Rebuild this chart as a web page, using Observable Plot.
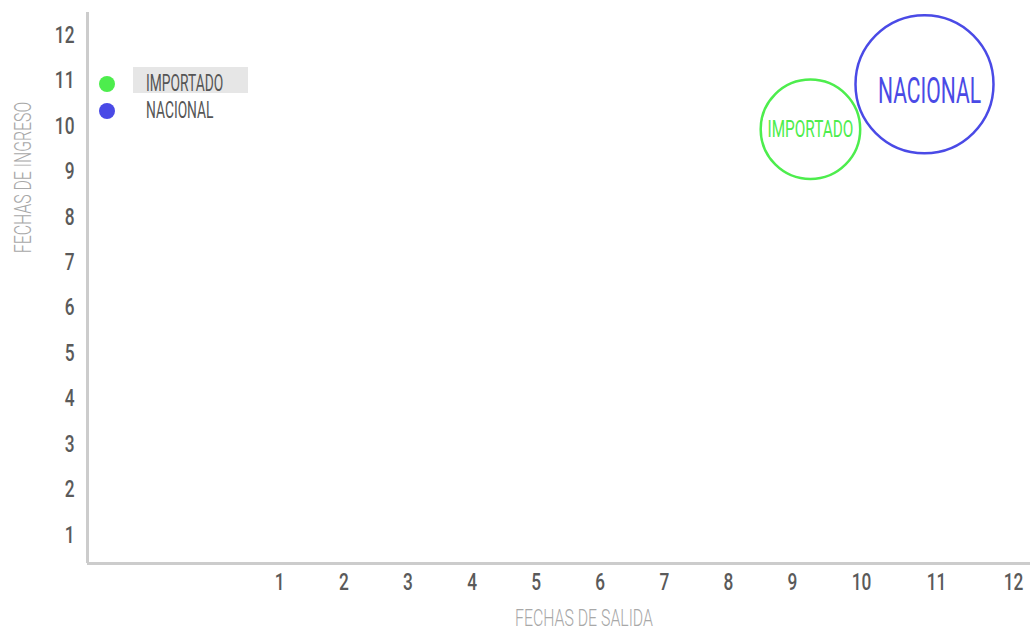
<!DOCTYPE html>
<html>
<head>
<meta charset="utf-8">
<script src="https://cdn.jsdelivr.net/npm/d3@7"></script>
<script src="https://cdn.jsdelivr.net/npm/@observablehq/plot@0.6"></script>
<style>
  html, body { margin: 0; padding: 0; background: #fff; }
  #wrap { position: relative; width: 1035px; height: 628px; font-family: Roboto, "Open Sans", sans-serif; }
  #legend { position: absolute; left: 0; top: 0; }
  .lg-dot { position: absolute; width: 16px; height: 16px; border-radius: 50%; }
  .lg-text { position: absolute; font-size: 23px; line-height: 26px; color: #555; white-space: nowrap; transform: scaleX(0.6); transform-origin: left center; }
  .lg-hl { position: absolute; background: #e6e6e6; }
</style>
</head>
<body>
<div id="wrap"><div id="chart"></div><div id="legend"></div></div>
<script>
// ---- data ----
const series = ["IMPORTADO", "NACIONAL"];
const salida = [9.26, 10.84];     // FECHAS DE SALIDA (x)
const ingreso = [9.93, 10.92];    // FECHAS DE INGRESO (y)
const volumen = [52, 100];        // bubble size
const colors = ["#4ded4d", "#4a4ae6"];
const xTicks = [1, 2, 3, 4, 5, 6, 7, 8, 9, 10, 11, 12];
const yTicks = [1, 2, 3, 4, 5, 6, 7, 8, 9, 10, 11, 12];

const data = series.map((s, i) => ({serie: s, x: salida[i], y: ingreso[i], v: volumen[i]}));

// the reference x axis is stretched a little beyond 9: piecewise mapping
const xPiece = d3.scaleLinear().domain([-2, 9, 10, 11, 12, 12.22]).range([87, 792, 861, 936, 1013, 1030]);

const font = 'Roboto, "Open Sans", sans-serif';

const chart = Plot.plot({
  width: 1035,
  height: 628,
  marginTop: 12,
  marginBottom: 65,
  marginLeft: 87,
  marginRight: 5,
  style: {fontFamily: font, background: "#fff", overflow: "visible"},
  x: {transform: xPiece, range: [87, 1030]},
  y: {domain: [0.37, 12.5]},
  r: {type: "sqrt", domain: [0, 100], range: [0, 69]},
  color: {domain: series, range: colors},
  marks: [
    Plot.ruleY([0.37], {x1: -2, x2: 12.22, stroke: "#cccccc", strokeWidth: 3}),
    Plot.ruleX([-2], {y1: 0.37, y2: 12.5, stroke: "#cccccc", strokeWidth: 3}),
    Plot.axisX(xTicks, {tickSize: 0, tickPadding: 9, fontSize: 24, fill: "#5a5a5a", fontWeight: 500, label: null, tickFormat: d => String(d), className: "sq-tick"}),
    Plot.axisY(yTicks, {tickSize: 0, tickPadding: 13, fontSize: 24, fill: "#5a5a5a", fontWeight: 500, label: null, tickFormat: d => String(d), className: "sq-tick"}),
    Plot.dot(data, {x: "x", y: "y", r: "v", stroke: "serie", strokeWidth: 2.5, fill: "none"}),
    Plot.text(data.filter(d => d.serie === "IMPORTADO"), {x: "x", y: "y", text: "serie", fill: "serie", fontSize: 24, className: "sq-bubble-s"}),
    Plot.text(data.filter(d => d.serie === "NACIONAL"), {x: "x", y: "y", text: "serie", fill: "serie", fontSize: 37, dx: 5, dy: 7, className: "sq-bubble-l"}),
    Plot.text(["FECHAS DE SALIDA"], {frameAnchor: "bottom", textAnchor: "middle", dx: 25, dy: 62, fontSize: 24, fill: "#a8a8a8", fontWeight: 300, className: "sq-title"}),
    Plot.text(["FECHAS DE INGRESO"], {frameAnchor: "top-left", textAnchor: "middle", rotate: -90, dx: -74, dy: 165, fontSize: 24, fill: "#a8a8a8", fontWeight: 300, className: "sq-title"})
  ]
});
document.getElementById("chart").appendChild(chart);

// condensed look: squeeze glyphs horizontally
function squeeze(sel, k) {
  chart.querySelectorAll(sel).forEach(t => {
    const len = t.getComputedTextLength();
    if (len > 0) {
      t.setAttribute("textLength", (len * k).toFixed(2));
      t.setAttribute("lengthAdjust", "spacingAndGlyphs");
    }
  });
}
squeeze(".sq-tick text", 0.72);
squeeze(".sq-title text", 0.66);
squeeze(".sq-bubble-s text", 0.64);
squeeze(".sq-bubble-l text", 0.57);

// ---- legend ----
const legend = document.getElementById("legend");
const hl = document.createElement("div");
hl.className = "lg-hl";
Object.assign(hl.style, {left: "133px", top: "67px", width: "115px", height: "26px"});
legend.appendChild(hl);
series.forEach((s, i) => {
  const dot = document.createElement("div");
  dot.className = "lg-dot";
  Object.assign(dot.style, {left: "99px", top: (76 + i * 27) + "px", background: colors[i]});
  legend.appendChild(dot);
  const t = document.createElement("div");
  t.className = "lg-text";
  t.textContent = s;
  Object.assign(t.style, {left: "146px", top: (71 + i * 27) + "px"});
  legend.appendChild(t);
});
</script>
</body>
</html>
